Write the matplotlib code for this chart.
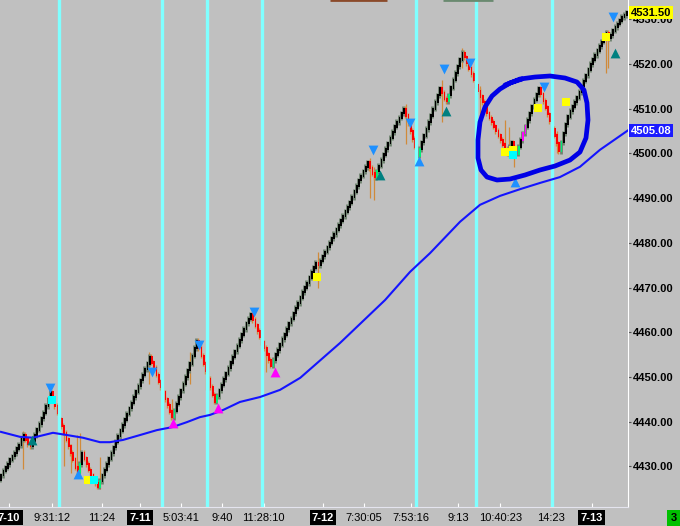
import numpy as np
import matplotlib
matplotlib.use("Agg")
import matplotlib.pyplot as plt
from matplotlib.transforms import blended_transform_factory

# bar closes, one per bar
closes = [
    4428.0, 4429.0, 4429.75, 4430.5, 4431.5, 4432.25, 4433.0, 4434.0, 4434.75, 4436.0, 4437.0,
    4436.0, 4435.0, 4434.5,
    4435.75, 4437.0, 4438.25, 4439.5, 4440.75, 4442.0, 4443.5, 4445.0, 4446.5,
    4445.0, 4443.5, 4442.0, 4440.5, 4439.0, 4437.5, 4436.0, 4434.5, 4433.0, 4431.5, 4429.75, 4428.0,
    4430.5, 4433.0, 4431.75, 4430.5, 4429.25, 4428.0, 4427.0, 4426.25, 4425.5,
    4426.75, 4428.0, 4429.25, 4430.5, 4431.75, 4433.0, 4434.25, 4435.5, 4436.75, 4438.0, 4439.25,
    4440.5, 4441.75, 4443.0, 4444.25, 4445.5, 4446.75, 4448.0, 4449.25, 4450.5, 4451.75, 4453.0, 4454.5,
    4453.25, 4452.0, 4450.5, 4449.0, 4447.75, 4446.5, 4445.0, 4443.75, 4442.25, 4441.0,
    4442.5, 4444.0, 4445.5, 4447.0, 4448.5, 4450.0, 4451.5, 4453.0, 4454.75, 4456.5, 4458.0,
    4456.5, 4454.75, 4453.0, 4451.25, 4449.5, 4447.75, 4446.0, 4444.5,
    4445.75, 4447.0, 4448.25, 4449.5, 4450.75, 4452.0, 4453.25, 4454.5, 4455.75, 4457.0, 4458.25,
    4459.5, 4460.75, 4462.0, 4463.0, 4464.0,
    4462.75, 4461.5, 4460.25, 4459.0, 4457.75, 4456.5, 4455.0, 4453.75, 4452.5,
    4453.75, 4455.0, 4456.0, 4457.25, 4458.5, 4459.5, 4460.75, 4462.0, 4463.0, 4464.25,
    4465.5, 4466.5, 4467.75, 4469.0, 4470.0, 4471.0, 4472.25, 4473.5, 4474.5, 4475.5,
    4475.0, 4476.0, 4477.0, 4478.0, 4479.0, 4480.0, 4481.0, 4482.0, 4483.0, 4484.0,
    4485.0, 4486.0, 4487.0, 4488.0, 4489.0, 4490.25, 4491.5, 4492.75, 4494.0, 4495.0,
    4496.0, 4497.0, 4498.0,
    4496.75, 4495.5, 4494.75,
    4496.0, 4497.25, 4498.5, 4499.75, 4501.0, 4502.25, 4503.5, 4504.75, 4506.0, 4507.0, 4508.0, 4509.0, 4510.0,
    4508.5, 4506.75, 4505.0, 4503.25, 4501.5, 4499.5,
    4501.0, 4502.5, 4504.0, 4505.5, 4507.0, 4508.5, 4510.0, 4511.5, 4513.0, 4514.5,
    4513.5, 4512.25, 4511.75, 4513.0, 4514.75, 4516.5, 4518.0, 4519.5, 4521.0, 4522.5,
    4521.5, 4520.25, 4519.0, 4517.75, 4516.5, 4515.25, 4514.0, 4512.75, 4511.5, 4510.25,
    4509.0, 4508.0, 4507.0, 4506.0, 4505.0, 4504.0, 4503.0, 4502.0, 4501.0, 4500.0,
    4501.5, 4502.5, 4501.0, 4500.0, 4501.5,
    4503.0, 4504.5, 4506.0, 4507.5, 4509.0, 4510.5, 4512.0, 4513.25, 4514.5,
    4513.25, 4511.75, 4510.25, 4508.75, 4507.25, 4505.5, 4504.0, 4502.25, 4500.5,
    4502.5, 4504.5, 4506.5, 4508.25, 4509.5, 4510.5, 4511.5, 4512.5, 4513.75, 4515.0,
    4516.25, 4517.5, 4518.75, 4520.0, 4521.0, 4522.0, 4523.0, 4524.0, 4525.0, 4526.0,
    4527.0, 4525.75, 4526.5, 4527.5, 4528.25, 4529.0, 4529.75, 4530.5, 4531.0, 4531.5,
]
green_bars = [35, 44, 77, 96, 121, 167, 186, 199, 230, 249]
magenta_bars = [232, 233]

# long tails on some bars
wick_bars = [10, 28, 31, 34, 35, 44, 66, 76, 84, 91, 118, 141, 164, 166, 180, 196, 205,
             213, 224, 226, 228, 245, 247, 269, 270]
wick_lows = [4429.5, 4430.0, 4428.5, 4427.5, 4428.5, 4425.0, 4448.5, 4440.5, 4448.5, 4447.0,
             4451.0, 4470.0, 4490.0, 4489.5, 4502.0, 4507.0, 4519.0, 4508.0, 4500.0, 4499.0,
             4497.0, 4502.5, 4500.0, 4518.0, 4519.0]
wick_highs = [4438.0, 4438.0, 4435.0, 4437.0, 4437.5, 4432.0, 4455.5, 4445.0, 4455.5, 4452.0,
              4457.0, 4478.0, 4499.0, 4497.0, 4511.0, 4516.5, 4523.5, 4515.0, 4507.5, 4506.0,
              4502.0, 4509.0, 4505.0, 4527.5, 4526.5]

# moving average
ma_bars = [0, 8.4, 14.2, 23.1, 29.3, 36.4, 44, 48.4, 54.2, 61.8, 69.3, 76.4, 82.7, 88.4, 92.9,
           98.7, 106.2, 115.1, 124, 133, 150.7, 170.7, 181.8, 190.7, 204, 212.9, 221.8, 230.7,
           239.6, 248.4, 257.3, 266.2, 278.5]
ma_values = [4437.7, 4436.6, 4436.4, 4437.5, 4437.0, 4436.4, 4435.4, 4435.4, 4435.9, 4437.0,
             4438.1, 4438.8, 4439.9, 4441.0, 4441.5, 4442.6, 4444.4, 4445.5, 4447.1, 4449.8,
             4457.6, 4467.2, 4473.5, 4477.7, 4484.7, 4488.5, 4490.5, 4492.0, 4493.4, 4494.7,
             4497.0, 4500.8, 4505.1]

# signal markers (bar, price)
blue_down_bars = [22, 67, 88, 112.5, 165.3, 182, 197, 208.5, 241.3, 272]
blue_down_prices = [4447.5, 4451.0, 4457.1, 4464.5, 4500.8, 4506.8, 4518.9, 4520.2, 4514.9, 4530.5]
blue_up_bars = [34.2, 186, 228.4]
blue_up_prices = [4428.3, 4498.3, 4493.6]
magenta_up_bars = [76.4, 96.4, 122]
magenta_up_prices = [4439.7, 4443.0, 4451.1]
teal_up_bars = [13.8, 168.4, 198, 273]
teal_up_prices = [4435.9, 4495.2, 4509.5, 4522.5]
yellow_bars = [38.7, 140.4, 224, 227.6, 238.7, 251, 269]
yellow_prices = [4426.9, 4472.3, 4500.3, 4500.8, 4510.2, 4511.5, 4526.0]
cyan_bars = [22.7, 41.3, 227.6]
cyan_prices = [4444.8, 4426.9, 4499.6]

session_bars = [25.9, 71.4, 91.5, 115.8, 184.6, 211.0, 244.7]

tick_bars = [3.6, 22.5, 44.8, 61.7, 80.0, 98.1, 116.8, 143.1, 161.3, 182.2, 203.3, 222.0, 244.3, 262.5]
tick_labels = ['7-10', '9:31:12', '11:24', '7-11', '5:03:41', '9:40', '11:28:10', '7-12',
               '7:30:05', '7:53:16', '9:13', '10:40:23', '14:23', '7-13']
date_labels = ['7-10', '7-11', '7-12', '7-13']

last_price = 4531.50
ma_last = 4505.08

# hand drawn loop around the double bottom
circle_bars = [224.0, 230.67, 237.33, 244.0, 250.67, 256.0, 259.11, 260.44, 260.89, 260.0,
               257.33, 252.89, 246.22, 239.56, 232.89, 226.22, 220.44, 216.0, 213.33, 212.0,
               212.0, 212.89, 215.11, 218.22, 221.78, 226.22, 231.56]
circle_prices = [4515.3, 4516.64, 4517.09, 4517.32, 4516.87, 4515.97, 4514.18, 4511.28, 4507.47,
                 4503.45, 4500.31, 4498.52, 4497.18, 4496.29, 4495.17, 4494.27, 4494.05, 4494.72,
                 4496.29, 4498.97, 4503.0, 4507.02, 4510.38, 4512.84, 4514.41, 4515.75, 4516.64]

plt.rcParams['font.family'] = ['Liberation Sans', 'DejaVu Sans']
bg = '#c0c0c0'

fig = plt.figure(figsize=(6.8, 5.26), dpi=100, facecolor=bg)
ax = fig.add_axes([0, 19 / 526, 628 / 680, 507 / 526], facecolor=bg)

closes = np.array(closes)
x = np.arange(len(closes))
opens = np.r_[closes[0] - 1.0, closes[:-1]]
lo = np.minimum(opens, closes)
hi = np.maximum(opens, closes)
up = closes >= opens

body_col = np.where(up, '#000000', '#ff0000').astype(object)
wick_col = np.where(up, '#6f826f', '#d58a3c').astype(object)
wick_w = np.where(up, 2.0, 1.0)
for i in green_bars:
    body_col[i] = '#00ee77'
for i in magenta_bars:
    body_col[i] = '#ff00ff'

# bars
ax.vlines(wick_bars, wick_lows, wick_highs, color='#d08a3a', lw=0.9, zorder=2)
ax.vlines(x - 0.3, lo - 0.6, hi + 0.6, color=list(wick_col), lw=list(wick_w), zorder=2)
ax.bar(x + 0.1, hi - lo + 0.5, bottom=lo - 0.25, width=0.85, color=list(body_col), lw=0, zorder=3)

# session separators
for b in session_bars:
    ax.axvline(b, color='#80ffff', lw=2.4, zorder=4)

# moving average
ax.plot(ma_bars, ma_values, color='#1414ff', lw=1.5, zorder=5)

# signals
ax.scatter(blue_down_bars, blue_down_prices, marker='v', s=50, color='#1e90ff', zorder=6, lw=0)
ax.scatter(blue_up_bars, blue_up_prices, marker='^', s=50, color='#1e90ff', zorder=6, lw=0)
ax.scatter(magenta_up_bars, magenta_up_prices, marker='^', s=50, color='#ff00ff', zorder=6, lw=0)
ax.scatter(teal_up_bars, teal_up_prices, marker='^', s=50, color='#008080', zorder=6, lw=0)
ax.scatter(yellow_bars, yellow_prices, marker='s', s=36, color='#ffff00', zorder=6, lw=0)
ax.scatter(cyan_bars, cyan_prices, marker='s', s=36, color='#00ffff', zorder=6, lw=0)

# hand drawn loop
ax.plot(circle_bars, circle_prices, color='#0000e6', lw=3.4, zorder=7,
        solid_capstyle='round', solid_joinstyle='round')

ax.set_xlim(-0.444, 278.67)
ax.set_ylim(4420.9, 4534.32)

# small strips at the top edge
ax.hlines(4534.32, 146.2, 171.6, color='#8b4a2a', lw=2.0, clip_on=False, zorder=8)
ax.hlines(4534.32, 196.4, 218.7, color='#6a8a70', lw=2.0, clip_on=False, zorder=8)

for s in ['left', 'top']:
    ax.spines[s].set_visible(False)
ax.spines['right'].set_color('white')
ax.spines['bottom'].set_color('#e4e4ee')

ax.yaxis.tick_right()
yt = np.arange(4430, 4531, 10)
ax.set_yticks(yt, ['%.2f' % v for v in yt])
ax.tick_params(axis='y', length=2, width=0.8, color='#505050', pad=1.5,
               labelsize=8, labelcolor='black')
for lab in ax.get_yticklabels():
    lab.set_fontweight('bold')

ax.set_xticks(tick_bars, tick_labels)
ax.tick_params(axis='x', direction='in', length=3, color='white', pad=4, labelsize=8)
for lab in ax.get_xticklabels():
    if lab.get_text() in date_labels:
        lab.set_color('white')
        lab.set_fontweight('bold')
        lab.set_bbox(dict(boxstyle='square,pad=0.2', fc='black', ec='none'))

trans = blended_transform_factory(ax.transAxes, ax.transData)
ax.text(1.005, last_price, '%.2f' % last_price, transform=trans, ha='left', va='center',
        fontsize=8, fontweight='bold', color='black', clip_on=False, zorder=10,
        bbox=dict(boxstyle='square,pad=0.15', fc='#ffff00', ec='none'))
ax.text(1.005, ma_last, '%.2f' % ma_last, transform=trans, ha='left', va='center',
        fontsize=8, fontweight='bold', color='white', clip_on=False, zorder=10,
        bbox=dict(boxstyle='square,pad=0.15', fc='#1c1cff', ec='none'))

fig.text(673.5 / 680, 8 / 526, '3', ha='center', va='center', fontsize=8, fontweight='bold',
         bbox=dict(boxstyle='square,pad=0.3', fc='#00c000', ec='none'))

fig.savefig('out.png', dpi=100, facecolor=bg)
